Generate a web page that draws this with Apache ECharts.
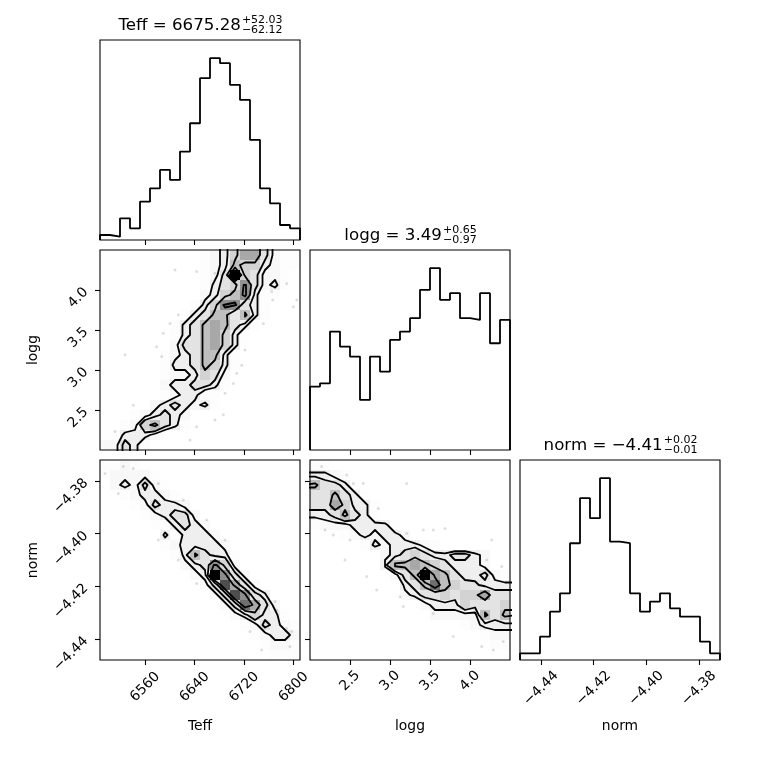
<!DOCTYPE html>
<html>
<head>
<meta charset="utf-8">
<script src="https://cdn.jsdelivr.net/npm/echarts@6/dist/echarts.min.js"></script>
<style>
html, body { margin: 0; padding: 0; background: #fff; }
#main { width: 760px; height: 760px; }
</style>
</head>
<body>
<div id="main"></div>
<script>
var FONT = 'DejaVu Sans';

// axis ranges of the three parameters
var teffRange = [6486.7, 6810.3];
var loggRange = [2.0, 4.5];
var normRange = [-4.448, -4.372];

var teffTicks = [6560, 6640, 6720, 6800];
var loggTicks = [2.5, 3.0, 3.5, 4.0];
var normTicks = [-4.44, -4.42, -4.40, -4.38];

// 1d histograms, 20 bins each
var teffHist = [3, 2, 13, 7, 23, 31, 42, 36, 53, 70, 97, 109, 106, 93, 84, 60, 31, 22, 9, 7];
var loggHist = [38, 40, 71, 62, 56, 30, 56, 47, 66, 71, 79, 96, 109, 90, 94, 79, 78, 94, 64, 78];
var normHist = [4, 4, 14, 29, 40, 70, 97, 85, 109, 71, 70, 40, 29, 35, 40, 31, 26, 26, 11, 4];

// 2d histograms, 20 x 20 bins, rows from top (high y) to bottom
var teffLogg = [
    [0,0,0,0,0,0,0,0,0,0,1,2,3,5,7,7,4,2,1,1],
    [0,0,0,0,0,0,0,0,0,0,1,2,3,6,5,5,3,2,1,1],
    [0,0,0,0,0,0,0,0,0,0,1,2,4,12,5,4,2,2,1,0],
    [0,0,0,0,0,0,0,0,0,0,1,3,4,5,7.9,4,2,3,1,0],
    [0,0,0,0,0,0,0,0,0,0,2,3,5,6,8,3,1,1,0,0],
    [0,0,0,0,0,0,0,0,0,1,3,5,8,8,4,3,1,0,0,0],
    [0,0,0,0,0,0,0,0,1,3,4,6,6,3.5,6,3,1,0,0,0],
    [0,0,0,0,0,0,0,1,3,4,6,7,6,4,3,1,0,0,0,0],
    [0,0,0,0,0,0,0,1,3,4,6,7,5,3,1,0,0,0,0,0],
    [0,0,0,0,0,0,0,2,4,4,6,7,5,3,1,0,0,0,0,0],
    [0,0,0,0,0,0,1,2,3,4,6,6,3,1,0,0,0,0,0,0],
    [0,0,0,0,0,0,1,3,3,4,6,5,3,1,0,0,0,0,0,0],
    [0,0,0,0,0,0,1,2,2,3,5,4,2,0,0,0,0,0,0,0],
    [0,0,0,0,0,0,2,3,3,4,4,3,1,0,0,0,0,0,0,0],
    [0,0,0,0,0,0,1,2,3,3,1,1,0,0,0,0,0,0,0,0],
    [0,0,0,0,0,2,3,4,3,2,3,1,0,0,0,0,0,0,0,0],
    [0,0,0,1,2,3,4,3,2,0,0,0,0,0,0,0,0,0,0,0],
    [0,0,1,2,5,6,4,3,1,0,0,0,0,0,0,0,0,0,0,0],
    [0,1,3,3,3,2,1,0,0,0,0,0,0,0,0,0,0,0,0,0],
    [2,2,4,3,1,0,0,0,0,0,0,0,0,0,0,0,0,0,0,0]
];
var teffNorm = [
    [1,1,2,1,0,0,0,0,0,0,0,0,0,0,0,0,0,0,0,0],
    [1,2,2,2,2,1,0,0,0,0,0,0,0,0,0,0,0,0,0,0],
    [0,2,3,2,4,2,1,0,0,0,0,0,0,0,0,0,0,0,0,0],
    [0,0,1,2,3,3,2,1,0,0,0,0,0,0,0,0,0,0,0,0],
    [0,0,0,1,2,4,3,3,2,0,0,0,0,0,0,0,0,0,0,0],
    [0,0,0,0,1,2,3,4,4,2,0,0,0,0,0,0,0,0,0,0],
    [0,0,0,0,0,1,1,3,4,3,2,0,0,0,0,0,0,0,0,0],
    [0,0,0,0,0,0,3,1,3,3,3,2,0,0,0,0,0,0,0,0],
    [0,0,0,0,0,0,1,2,3,3,3,3,2,0,0,0,0,0,0,0],
    [0,0,0,0,0,0,0,1,3,6,4,3,3,1,0,0,0,0,0,0],
    [0,0,0,0,0,0,0,0,2,3,4,8,5,2,0,0,0,0,0,0],
    [0,0,0,0,0,0,0,0,0,2,3,12,8,4,2,0,0,0,0,0],
    [0,0,0,0,0,0,0,0,0,0,2,4,10,7,4,2,0,0,0,0],
    [0,0,0,0,0,0,0,0,0,0,0,2,4,10,8,4,3,0,0,0],
    [0,0,0,0,0,0,0,0,0,0,0,0,2,4,9,7,4,2,0,0],
    [0,0,0,0,0,0,0,0,0,0,0,0,0,2,3,5,3,3,1,0],
    [0,0,0,0,0,0,0,0,0,0,0,0,0,0,1,2,4,3,2,1],
    [0,0,0,0,0,0,0,0,0,0,0,0,0,0,0,1,2,3,3,2],
    [0,0,0,0,0,0,0,0,0,0,0,0,0,0,0,0,1,2,2,1],
    [0,0,0,0,0,0,0,0,0,0,0,0,0,0,0,0,0,1,1,1]
];
var loggNorm = [
    [1,1,0,0,0,0,0,0,0,0,0,0,0,0,0,0,0,0,0,0],
    [3,3,2,1,0,0,0,0,0,0,0,0,0,0,0,0,0,0,0,0],
    [6,4,4,3,1,0,0,0,0,0,0,0,0,0,0,0,0,0,0,0],
    [4,4,6,4,3,1,0,0,0,0,0,0,0,0,0,0,0,0,0,0],
    [4,4,7,5,3,3,1,0,0,0,0,0,0,0,0,0,0,0,0,0],
    [3,3,4,6,4,3,1,0,0,0,0,0,0,0,0,0,0,0,0,0],
    [1,2,2,2,3,3,3,3,1,0,0,0,0,0,0,0,0,0,0,0],
    [0,0,0,1,2,3,2,3,3,2,0,0,0,0,0,0,0,0,0,0],
    [0,0,0,0,0,1,3,2,3,3,3,2,1,0,0,0,0,0,0,0],
    [0,0,0,0,0,0,0,2,3,4,5,4,3,3,4,4,3,2,0,0],
    [0,0,0,0,0,0,0,3,6,6,7,6,5,4,3,3,3,2,0,0],
    [0,0,0,0,0,0,0,0,2,4,6,12,7,6,4,3,3,4,2,1],
    [0,0,0,0,0,0,0,0,0,3,4,6,9,6,5,4,3.8,3,3,3],
    [0,0,0,0,0,0,0,0,0,2,3,4,4,5,4,5,5,7,4,4],
    [0,0,0,0,0,0,0,0,0,0,0,2,3,3,3,5,4,4,4,5],
    [0,0,0,0,0,0,0,0,0,0,0,0,2,2,2,2,2,6,4,6],
    [0,0,0,0,0,0,0,0,0,0,0,0,0,0,0,1,2,3,3,3],
    [0,0,0,0,0,0,0,0,0,0,0,0,0,0,0,0,0,1,2,2],
    [0,0,0,0,0,0,0,0,0,0,0,0,0,0,0,0,0,0,1,1],
    [0,0,0,0,0,0,0,0,0,0,0,0,0,0,0,0,0,0,0,0]
];

// counts at which the four contours are drawn (2, 1.5, 1 and 0.5 sigma)
var contourLevels = [2.5, 3.5, 5.5, 7.5];

// faint samples lying outside the contours
var teffLoggPts = [[6608.1,4.25],[6643.1,4.23],[6672.8,4.21],[6764.5,3.98],[6766.1,3.875],[6788.7,4.08],
    [6805,3.875],[6799.5,3.79],[6750.9,3.58],[6600,3.58],[6589.1,3.46],[6613.4,3.69],[6578.4,3.29],
    [6527.2,3.19],[6586.5,3.17],[6721.3,3.25],[6716,3.06],[6707.9,2.96],[6702.4,2.83],[6689,2.71],
    [6686.2,2.44],[6672.8,2.375],[6540.6,2.56],[6511,2.23],[6643.1,2.29],[6632.3,2.125]];
var teffNormPts = [[6494.8,-4.3771],[6524.4,-4.3745],[6540.6,-4.3752],[6516.3,-4.3847],[6581,-4.3809],
    [6621.5,-4.3872],[6659.3,-4.3948],[6689,-4.4024],[6581,-4.4024],[6613.4,-4.41],[6643.1,-4.4189],
    [6769.9,-4.4258],[6772.6,-4.429],[6788.7,-4.436],[6796.9,-4.4372],[6794.1,-4.4429],[6748.3,-4.4442],
    [6729.4,-4.4372]];
var loggNormPts = [[2.146,-4.3745],[2.458,-4.3777],[2.541,-4.3809],[2.666,-4.3809],[3.209,-4.3809],
    [2.854,-4.3904],[2.291,-4.4005],[2.5,-4.4024],[2.1875,-4.3986],[2.4375,-4.41],[2.709,-4.4163],
    [3.209,-4.3999],[3.416,-4.3986],[3.541,-4.3986],[3.6875,-4.398],[4.271,-4.4024],[4.396,-4.4125],
    [4.209,-4.41],[3.125,-4.424],[3.166,-4.4277],[3.541,-4.4303],[3.791,-4.4391],[4.146,-4.4429],
    [4.291,-4.4442],[4.416,-4.441],[2.834,-4.4214]];

function stepData(hist, range) {
    var n = hist.length, w = (range[1] - range[0]) / n;
    var d = [[range[0], 0]];
    hist.forEach(function (v, i) { d.push([range[0] + i * w, v]); });
    d.push([range[1], hist[n - 1]]);
    d.push([range[1], 0]);
    return d;
}

function cellData(H, xr, yr) {
    var n = H.length, dx = (xr[1] - xr[0]) / n, dy = (yr[1] - yr[0]) / n;
    var max = 0, out = [];
    H.forEach(function (row) { row.forEach(function (v) { max = Math.max(max, v); }); });
    H.forEach(function (row, r) {
        row.forEach(function (v, c) {
            if (v > 0) out.push([xr[0] + c * dx, yr[1] - (r + 1) * dy, xr[0] + (c + 1) * dx, yr[1] - r * dy, v / max]);
        });
    });
    return out;
}

// marching squares on the padded grid of bin centres, as corner does
function contourData(H, xr, yr, levels) {
    var n = H.length, m = n + 4;
    var dx = (xr[1] - xr[0]) / n, dy = (yr[1] - yr[0]) / n;
    function h(c, j) { return H[n - 1 - j][c]; }
    function X(i) { return xr[0] + (i - 1.5) * dx; }
    function Y(j) { return yr[0] + (j - 1.5) * dy; }
    var P = [], i, j, k;
    for (i = 0; i < m; i++) { P.push([]); for (j = 0; j < m; j++) P[i].push(0); }
    for (i = 0; i < n; i++) for (j = 0; j < n; j++) P[i + 2][j + 2] = h(i, j);
    for (k = 0; k < n; k++) {
        P[k + 2][1] = h(k, 0); P[k + 2][n + 2] = h(k, n - 1);
        P[1][k + 2] = h(0, k); P[n + 2][k + 2] = h(n - 1, k);
    }
    P[1][1] = h(0, 0); P[n + 2][1] = h(n - 1, 0); P[1][n + 2] = h(0, n - 1); P[n + 2][n + 2] = h(n - 1, n - 1);

    var out = [];
    levels.forEach(function (L) {
        var pts = {}, segs = [];
        function ep(key, i0, j0, i1, j1) {
            if (!pts[key]) {
                var a = P[i0][j0], b = P[i1][j1], t = (L - a) / (b - a);
                pts[key] = [X(i0 + t * (i1 - i0)), Y(j0 + t * (j1 - j0))];
            }
            return key;
        }
        for (i = 0; i < m - 1; i++) for (j = 0; j < m - 1; j++) {
            var a = P[i][j] > L, b = P[i + 1][j] > L, c = P[i + 1][j + 1] > L, d = P[i][j + 1] > L;
            var eB = a !== b ? ep('h' + i + '_' + j, i, j, i + 1, j) : null;
            var eR = b !== c ? ep('v' + (i + 1) + '_' + j, i + 1, j, i + 1, j + 1) : null;
            var eT = d !== c ? ep('h' + i + '_' + (j + 1), i, j + 1, i + 1, j + 1) : null;
            var eL = a !== d ? ep('v' + i + '_' + j, i, j, i, j + 1) : null;
            var list = [eB, eR, eT, eL].filter(Boolean);
            if (list.length === 2) segs.push(list);
            else if (list.length === 4) {
                var centre = (P[i][j] + P[i + 1][j] + P[i + 1][j + 1] + P[i][j + 1]) / 4 > L;
                if (a !== centre) { segs.push([eB, eL]); segs.push([eR, eT]); }
                else { segs.push([eB, eR]); segs.push([eT, eL]); }
            }
        }
        var adj = {}, used = segs.map(function () { return false; });
        segs.forEach(function (s, q) { s.forEach(function (key) { (adj[key] = adj[key] || []).push(q); }); });
        function walk(key, line) {
            while (true) {
                var nxt = (adj[key] || []).filter(function (q) { return !used[q]; })[0];
                if (nxt === undefined) return;
                used[nxt] = true;
                key = segs[nxt][0] === key ? segs[nxt][1] : segs[nxt][0];
                line.push(key);
            }
        }
        segs.forEach(function (s, q) {
            if (used[q]) return;
            used[q] = true;
            var fwd = [s[0], s[1]], back = [];
            walk(s[1], fwd);
            walk(s[0], back);
            back.reverse().concat(fwd).forEach(function (key) { out.push(pts[key]); });
            out.push(['-', '-']);
        });
    });
    return out;
}

function minus(s) { return s.replace('-', '\u2212'); }
var fmtTeff = function (v) { return String(Math.round(v)); };
var fmtLogg = function (v) { return v.toFixed(1); };
var fmtNorm = function (v) { return minus(v.toFixed(2)); };

var labelFont = { color: '#000', fontFamily: FONT, fontSize: 13.9 };

function xAxisFor(gi, range, ticks, fmt, margin, name) {
    return {
        gridIndex: gi, type: 'value', min: range[0], max: range[1],
        axisLine: { show: false }, splitLine: { show: false },
        axisTick: { show: true, inside: false, length: 5, customValues: ticks, lineStyle: { color: '#000', width: 1.1 } },
        axisLabel: Object.assign({ show: !!fmt, customValues: ticks, rotate: 45, align: 'center', verticalAlign: 'middle',
            margin: margin, formatter: fmt }, labelFont),
        name: name || '', nameLocation: 'middle', nameGap: 66,
        nameTextStyle: Object.assign({ align: 'center', verticalAlign: 'middle' }, labelFont)
    };
}
function yAxisFor(gi, range, ticks, fmt, name) {
    return {
        gridIndex: gi, type: 'value', min: range[0], max: range[1],
        axisLine: { show: false }, splitLine: { show: false },
        axisTick: { show: true, inside: false, length: 5, customValues: ticks, lineStyle: { color: '#000', width: 1.1 } },
        axisLabel: Object.assign({ show: !!fmt, customValues: ticks, rotate: 45, margin: 14, formatter: fmt }, labelFont),
        name: name || '', nameLocation: 'middle', nameGap: 67,
        nameTextStyle: Object.assign({ align: 'center', verticalAlign: 'middle' }, labelFont)
    };
}
function histYAxis(gi, hist) {
    return { gridIndex: gi, type: 'value', min: 0, max: 1.1 * Math.max.apply(null, hist), show: false };
}

var panels = [[100, 40], [100, 250], [310, 250], [100, 460], [310, 460], [520, 460]];

function histSeries(gi, hist, range) {
    return {
        type: 'line', xAxisIndex: gi, yAxisIndex: gi, step: 'end', symbol: 'none',
        data: stepData(hist, range), lineStyle: { color: '#000', width: 1.8 }, z: 3
    };
}
function densitySeries(gi, H, xr, yr, pts) {
    return [
        { type: 'scatter', xAxisIndex: gi, yAxisIndex: gi, data: pts, symbolSize: 3,
          itemStyle: { color: 'rgba(0,0,0,0.16)' }, z: 1 },
        { type: 'custom', xAxisIndex: gi, yAxisIndex: gi, data: cellData(H, xr, yr),
          encode: { x: [0, 2], y: [1, 3] }, z: 2,
          renderItem: function (params, api) {
              var p0 = api.coord([api.value(0), api.value(3)]);
              var p1 = api.coord([api.value(2), api.value(1)]);
              var f = api.value(4);
              return { type: 'rect', shape: { x: p0[0], y: p0[1], width: p1[0] - p0[0], height: p1[1] - p0[1] },
                       style: { fill: 'rgba(0,0,0,' + (f * f).toFixed(3) + ')' } };
          } },
        { type: 'line', xAxisIndex: gi, yAxisIndex: gi, symbol: 'none', connectNulls: false,
          data: contourData(H, xr, yr, contourLevels), z: 4,
          lineStyle: { color: '#000', width: 1.8, cap: 'round', join: 'round' } }
    ];
}

// titles: value with stacked upper and lower errors
var measure = document.createElement('canvas').getContext('2d');
function titleText(cx, top, main, sup, sub) {
    measure.font = '16.67px "' + FONT + '"';
    var wm = measure.measureText(main).width;
    measure.font = '11px "' + FONT + '"';
    var ws = Math.max(measure.measureText(sup).width, measure.measureText(sub).width);
    var x0 = cx - (wm + ws) / 2;
    var st = { fill: '#000', fontFamily: FONT, align: 'left', verticalAlign: 'middle' };
    return [
        { type: 'text', x: x0, y: top - 14.8, style: Object.assign({ text: main, fontSize: 16.67 }, st) },
        { type: 'text', x: x0 + wm + 1, y: top - 19.8, style: Object.assign({ text: sup, fontSize: 11 }, st) },
        { type: 'text', x: x0 + wm + 1, y: top - 9.5, style: Object.assign({ text: sub, fontSize: 11 }, st) }
    ];
}

var chart = echarts.init(document.getElementById('main'));
var option = {
    animation: false,
    backgroundColor: '#fff',
    grid: panels.map(function (p) {
        return { left: p[0], top: p[1], width: 200, height: 200, show: true,
                 borderColor: '#000', borderWidth: 1.1, z: 10 };
    }),
    xAxis: [
        xAxisFor(0, teffRange, teffTicks),
        xAxisFor(1, teffRange, teffTicks),
        xAxisFor(2, loggRange, loggTicks),
        xAxisFor(3, teffRange, teffTicks, fmtTeff, 27, 'Teff'),
        xAxisFor(4, loggRange, loggTicks, fmtLogg, 21, 'logg'),
        xAxisFor(5, normRange, normTicks, fmtNorm, 28.5, 'norm')
    ],
    yAxis: [
        histYAxis(0, teffHist),
        yAxisFor(1, loggRange, loggTicks, fmtLogg, 'logg'),
        histYAxis(2, loggHist),
        yAxisFor(3, normRange, normTicks, fmtNorm, 'norm'),
        yAxisFor(4, normRange, normTicks),
        histYAxis(5, normHist)
    ],
    graphic: [].concat(
        titleText(200, 40, 'Teff = 6675.28', '+52.03', '\u221262.12'),
        titleText(410, 250, 'logg = 3.49', '+0.65', '\u22120.97'),
        titleText(620, 460, 'norm = \u22124.41', '+0.02', '\u22120.01')
    ),
    series: [].concat(
        histSeries(0, teffHist, teffRange),
        densitySeries(1, teffLogg, teffRange, loggRange, teffLoggPts),
        histSeries(2, loggHist, loggRange),
        densitySeries(3, teffNorm, teffRange, normRange, teffNormPts),
        densitySeries(4, loggNorm, loggRange, normRange, loggNormPts),
        histSeries(5, normHist, normRange)
    )
};
chart.setOption(option);
</script>
</body>
</html>
